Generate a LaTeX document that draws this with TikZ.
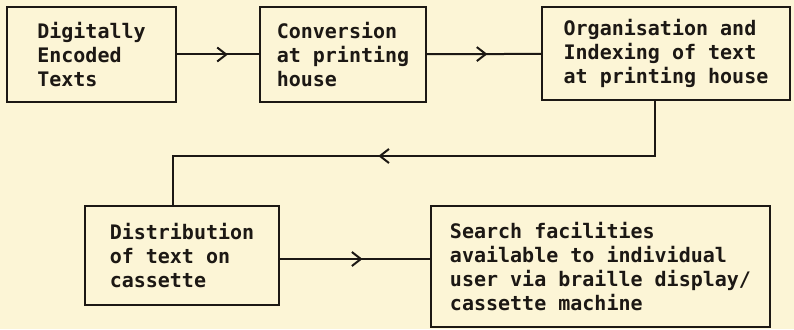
\documentclass[tikz,border=0pt]{standalone}
\usepackage{fontspec}
\setmonofont{DejaVu Sans Mono}
\usepackage{xcolor}
\usetikzlibrary{arrows.meta,decorations.markings}

\definecolor{paper}{RGB}{252,245,214}
\definecolor{ink}{RGB}{28,24,20}

\tikzset{
  stage/.style={draw=ink, line width=2pt, inner sep=0pt, align=left, text=ink,
    font=\ttfamily\bfseries\fontsize{20}{24}\selectfont},
  flowline/.style={draw=ink, line width=2pt},
  midarrow/.style={decoration={markings, mark=at position #1 with
    {\arrow{Straight Barb[length=9pt,width=14pt,line width=2pt]}}}, postaction={decorate}}
}

\begin{document}
\begin{tikzpicture}[x=1pt,y=-1pt]

\fill[paper] (0,0) rectangle (794,329);
\useasboundingbox (0,0) rectangle (794,329);

% top row
\node[stage, minimum width=169pt, minimum height=95pt] (encoded) at (91.5,54.5) {Digitally\\Encoded\\Texts};
\node[stage, minimum width=166pt, minimum height=95pt] (conversion) at (343,54.5) {Conversion\\at printing\\house};
\node[stage, minimum width=248pt, minimum height=93pt] (indexing) at (666,53.5) {Organisation and\\Indexing of text\\at printing house};

% bottom row
\node[stage, minimum width=194pt, minimum height=99pt] (distribution) at (182,255.5) {Distribution\\of text on\\cassette};
\node[stage, minimum width=339pt, minimum height=121pt] (search) at (600.5,266.5) {Search facilities\\available to individual\\user via braille display/\\cassette machine};

\coordinate (down) at (655,156);
\coordinate (up) at (173,156);

\draw[flowline, midarrow=0.62] (encoded) -- (conversion);
\draw[flowline, midarrow=0.53] (conversion) -- (indexing);
\draw[flowline, midarrow=0.566] (indexing.south -| down) -- (down) -- (up) -- (distribution.north -| up);
\draw[flowline, midarrow=0.55] (distribution.east |- 0,259) -- (search.west |- 0,259);

\end{tikzpicture}
\end{document}
